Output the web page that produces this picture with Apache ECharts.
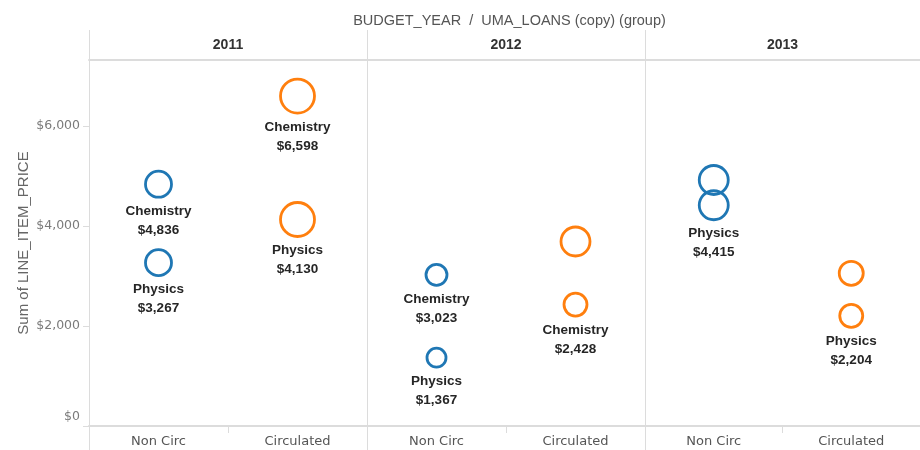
<!DOCTYPE html>
<html>
<head>
<meta charset="utf-8">
<script src="https://cdn.jsdelivr.net/npm/echarts@6/dist/echarts.min.js"></script>
<style>
  html, body { margin: 0; padding: 0; background: #fff; }
  #chart { width: 920px; height: 450px; }
</style>
</head>
<body>
<div id="chart"></div>
<script>
// values
const years = ['2011', '2012', '2013'];
const groups = ['Non Circ', 'Circulated'];
const yTicks = [0, 2000, 4000, 6000];

const pointYear    = ['2011', '2011', '2011', '2011', '2012', '2012', '2012', '2012', '2013', '2013', '2013', '2013'];
const pointGroup   = ['Non Circ', 'Non Circ', 'Circulated', 'Circulated', 'Non Circ', 'Non Circ', 'Circulated', 'Circulated', 'Non Circ', 'Non Circ', 'Circulated', 'Circulated'];
const pointSubject = ['Chemistry', 'Physics', 'Chemistry', 'Physics', 'Chemistry', 'Physics', 'Physics', 'Chemistry', 'Chemistry', 'Physics', 'Chemistry', 'Physics'];
const pointValue   = [4836, 3267, 6598, 4130, 3023, 1367, 3690, 2428, 4920, 4415, 3054, 2204];
const pointSize    = [26, 26, 34, 34, 21, 19, 29, 23, 29, 29, 24, 23];
const pointLabel   = [true, true, true, true, true, true, false, true, false, true, false, true];

const groupColors = { 'Non Circ': '#1f77b4', 'Circulated': '#ff7f0e' };

const font = '"DejaVu Sans", Arial, sans-serif';
const arial = '"Liberation Sans", Arial, sans-serif';
const lineColor = '#dcdcdc';
const panelEdges = [89, 367, 645, 920];
const plotTop = 60, plotBottom = 426, headTop = 30;
const yMax = 7320;

const chart = echarts.init(document.getElementById('chart'));

const grids = [], xAxes = [], yAxes = [], series = [];
years.forEach((yr, i) => {
  grids.push({
    left: panelEdges[i],
    width: panelEdges[i + 1] - panelEdges[i],
    top: plotTop,
    height: plotBottom - plotTop
  });
  // bottom category axis
  xAxes.push({
    type: 'category',
    gridIndex: i,
    data: groups,
    axisLine: { lineStyle: { color: lineColor, width: 2 } },
    axisTick: { show: true, length: 7, lineStyle: { color: lineColor } },
    axisLabel: { color: '#555', fontSize: 13, fontFamily: font, margin: 9 },
    splitLine: { show: false }
  });
  // column header
  xAxes.push({
    type: 'category',
    gridIndex: i,
    position: 'top',
    data: [yr],
    axisLine: { lineStyle: { color: lineColor, width: 2 } },
    axisTick: { show: false },
    axisLabel: { color: '#333', fontSize: 14, fontWeight: 'bold', fontFamily: arial, margin: 8 }
  });
  yAxes.push({
    type: 'value',
    gridIndex: i,
    min: 0,
    max: yMax,
    show: i === 0,
    name: i === 0 ? 'Sum of LINE_ITEM_PRICE' : '',
    nameLocation: 'middle',
    nameGap: 58,
    nameTextStyle: { color: '#666', fontSize: 15, fontFamily: arial },
    axisLine: { show: false },
    axisTick: { show: true, length: 6, customValues: yTicks, lineStyle: { color: lineColor } },
    axisLabel: {
      customValues: yTicks,
      color: '#7a7a7a',
      fontSize: 12.5,
      fontFamily: font,
      margin: 9,
      formatter: v => v === 0 ? '{z|$0}' : '$' + v.toLocaleString('en-US'),
      rich: { z: { color: '#7a7a7a', fontSize: 12.5, fontFamily: font, padding: [0, 0, 18, 0] } }
    },
    splitLine: { show: false }
  });

  const data = [];
  pointValue.forEach((v, k) => {
    if (pointYear[k] !== yr) return;
    data.push({
      value: [pointGroup[k], v],
      name: pointSubject[k],
      symbolSize: pointSize[k],
      itemStyle: { borderColor: groupColors[pointGroup[k]] },
      label: { show: pointLabel[k] }
    });
  });
  series.push({
    type: 'scatter',
    xAxisIndex: i * 2,
    yAxisIndex: i,
    symbol: 'circle',
    itemStyle: { color: 'rgba(0,0,0,0)', borderWidth: 2.8, opacity: 1 },
    label: {
      position: 'bottom',
      distance: 3,
      color: '#262626',
      fontSize: 13.5,
      fontWeight: 'bold',
      fontFamily: arial,
      lineHeight: 19,
      formatter: p => p.name + '\n$' + p.value[1].toLocaleString('en-US')
    },
    emphasis: { disabled: true },
    data: data
  });
});

// panel dividers running through header and axis area
const graphics = panelEdges.slice(0, 3).map(x => ({
  type: 'line',
  shape: { x1: x + 0.5, y1: headTop, x2: x + 0.5, y2: 450 },
  style: { stroke: lineColor, lineWidth: 1 },
  silent: true
}));

chart.setOption({
  animation: false,
  title: {
    text: 'BUDGET_YEAR  /  UMA_LOANS (copy) (group)',
    left: (panelEdges[0] + panelEdges[3]) / 2,
    textAlign: 'center',
    top: 8,
    textStyle: { color: '#555', fontSize: 14.5, fontWeight: 'normal', fontFamily: arial }
  },
  grid: grids,
  xAxis: xAxes,
  yAxis: yAxes,
  series: series,
  graphic: graphics
});
</script>
</body>
</html>
